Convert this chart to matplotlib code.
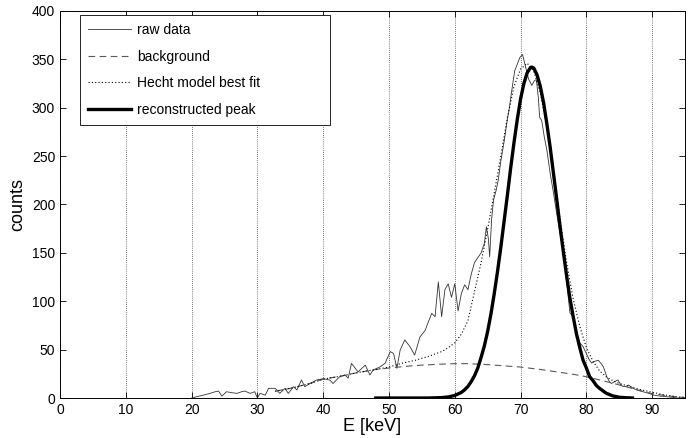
import matplotlib
matplotlib.use('Agg')
import matplotlib.pyplot as plt

plt.rcParams['font.family'] = ['Liberation Sans', 'DejaVu Sans']

# raw spectrum (E in keV, counts)
raw_e = [20.0, 20.8, 21.8, 22.8, 23.6, 24.1, 24.6, 25.3, 26.1, 26.9, 27.6, 28.1, 28.9, 29.6, 30.0,
         30.4, 31.2, 31.7, 32.7, 33.4, 34.2, 34.7, 35.5, 36.0, 36.7, 37.2, 38.0, 39.0, 40.0, 41.0,
         41.5, 42.5, 43.3, 43.8, 44.3, 45.3, 46.4, 47.1, 47.6, 48.6, 49.4, 50.2, 50.7, 51.2, 51.7,
         52.4, 53.2, 53.9, 54.7, 55.5, 56.0, 56.5, 57.0, 57.5, 58.0, 58.5, 59.0, 59.5, 60.0, 60.5,
         61.0, 61.5, 62.0, 62.5, 63.0, 63.5, 64.0, 64.5, 64.8, 65.1, 65.3, 65.6, 65.9, 66.3, 66.6,
         67.0, 67.5, 67.9, 68.3, 68.6, 69.1, 69.5, 69.9, 70.3, 70.7, 71.2, 71.7, 72.1, 72.4, 72.7,
         72.9, 73.2, 73.6, 74.0, 74.5, 75.0, 75.5, 76.0, 76.5, 77.0, 77.3, 77.5, 77.9, 78.3, 78.7,
         79.0, 79.5, 80.0, 80.4, 80.8, 81.3, 81.8, 82.2, 82.6, 83.1, 83.5, 83.8, 84.3, 84.8, 85.2,
         85.6, 86.0, 86.4, 87.1, 87.8, 88.6, 89.4, 90.2, 91.2, 92.2, 93.0, 93.7, 95.0]
raw_counts = [0, 1.4, 3, 4.8, 6.5, 7.2, 2, 6.5, 5.5, 4.8, 6.5, 7.2, 4.8, 6.5, 0,
              4.8, 3, 10, 10, 4.8, 10, 4.8, 11.7, 8.3, 18.6, 11.7, 15, 18.6, 20, 18.6,
              15, 22, 23.8, 20.6, 35.8, 27, 34, 23.8, 29, 32, 35.8, 48, 46, 30.7, 49.6,
              60, 53, 44.4, 63, 70, 79, 87.5, 84, 120, 84, 112, 118, 104, 118, 90,
              108, 117, 112, 128, 140, 145, 150, 160, 177, 165, 146, 185, 205, 215, 225,
              245, 265, 284, 300, 315, 338, 345, 352, 355, 344, 330, 323, 328, 329, 310,
              290, 287, 270, 256, 232, 212, 190, 170, 150, 120, 101, 88, 85, 74, 64,
              57, 53, 46, 40, 36, 38, 39, 36, 32, 22, 17, 15, 17, 18.6, 14,
              11.7, 12, 13.4, 10, 8, 6.5, 5, 3, 2, 1.3, 0.8, 0, 0]

# background
bg_e = [32.7, 35, 38, 40, 43, 45, 48, 50, 53, 55, 58, 60, 62, 65, 68, 70, 73, 75, 78,
        80, 83, 85, 88, 90, 92, 94, 95]
bg_counts = [7, 10, 15, 19.5, 23, 26, 29.5, 31, 33, 34, 35, 35.5, 35.5, 34.5, 33, 32, 29.5,
             27.5, 24.5, 22, 17, 13.5, 8, 4.5, 2.5, 1, 0.5]

# Hecht model fit
fit_e = [32.7, 35, 38, 40, 43, 45, 48, 50, 52, 54, 56, 58, 59, 60, 61, 62, 63, 64, 65, 66,
         67, 68, 69, 70, 71, 72, 73, 74, 75, 76, 77, 78, 79, 80, 81, 82, 83, 84, 85, 86,
         87, 88, 89, 90, 91, 92, 93, 94, 95]
fit_counts = [7, 10, 15, 19.5, 23, 26, 29.5, 32, 36, 39, 43, 48, 52, 57, 66, 80, 110, 140,
              175, 212, 250, 290, 322, 340, 346, 338, 315, 280, 235, 185, 140, 102, 74, 52,
              38, 28, 22, 18, 15, 13, 11, 9, 7.5, 6, 4.5, 3, 2, 1, 0.5]

# reconstructed peak
peak_e = [48, 52, 56, 58, 59, 60, 61, 61.5, 62, 62.5, 63, 63.5, 64, 64.5, 65, 65.5, 66, 66.5,
          67, 67.5, 68, 68.5, 69, 69.5, 70, 70.5, 71, 71.5, 71.7, 72, 72.5, 73, 73.5, 74, 74.5,
          75, 75.5, 76, 76.5, 77, 77.5, 78, 78.5, 79, 79.5, 80, 80.5, 81, 81.5, 82, 83, 84,
          85, 86, 87]
peak_counts = [0, 0, 0, 0.4, 1.1, 2.6, 5.8, 8.5, 12, 17, 23, 31, 42, 54, 69, 87, 108, 131,
               156, 183, 210, 238, 264, 288, 309, 325, 336, 341.5, 342, 341, 334, 322, 305, 283,
               259, 232, 205, 177, 151, 126, 103, 84, 66, 52, 39, 31, 22, 18, 13, 10, 5, 2.2,
               0.8, 0.3, 0]

fig = plt.figure(figsize=(6.92, 4.38), dpi=100)
ax = fig.add_axes([0.0867, 0.0913, 0.9033, 0.8837])

ax.plot(raw_e, raw_counts, color='0.2', lw=0.6, label='raw data')
ax.plot(bg_e, bg_counts, color='0.35', lw=0.8, ls=(0, (6, 4)), label='background')
ax.plot(fit_e, fit_counts, color='black', lw=0.8, ls=(0, (1, 2)), label='Hecht model best fit')
ax.plot(peak_e, peak_counts, color='black', lw=2.4, label='reconstructed peak')

ax.set_xlim(0, 95)
ax.set_ylim(0, 400)
ax.set_xticks(range(0, 91, 10))
ax.set_yticks(range(0, 401, 50))
ax.tick_params(direction='in', top=True, right=True, length=4, width=0.6, labelsize=10)
ax.grid(axis='x', color='black', ls=(0, (1, 2)), lw=0.5)
for s in ax.spines.values():
    s.set_linewidth(0.7)

ax.set_xlabel('E [keV]', fontsize=13, labelpad=1)
ax.set_ylabel('counts', fontsize=13, labelpad=4)

leg = ax.legend(loc='upper left', bbox_to_anchor=(0.032, 0.99, 0.4, 0.0), mode='expand',
                borderaxespad=0, fancybox=False, framealpha=1, edgecolor='black',
                fontsize=10, handlelength=3.1, handletextpad=0.4, labelspacing=0.9,
                borderpad=0.6)
leg.get_frame().set_linewidth(0.6)

fig.savefig('out.png')
